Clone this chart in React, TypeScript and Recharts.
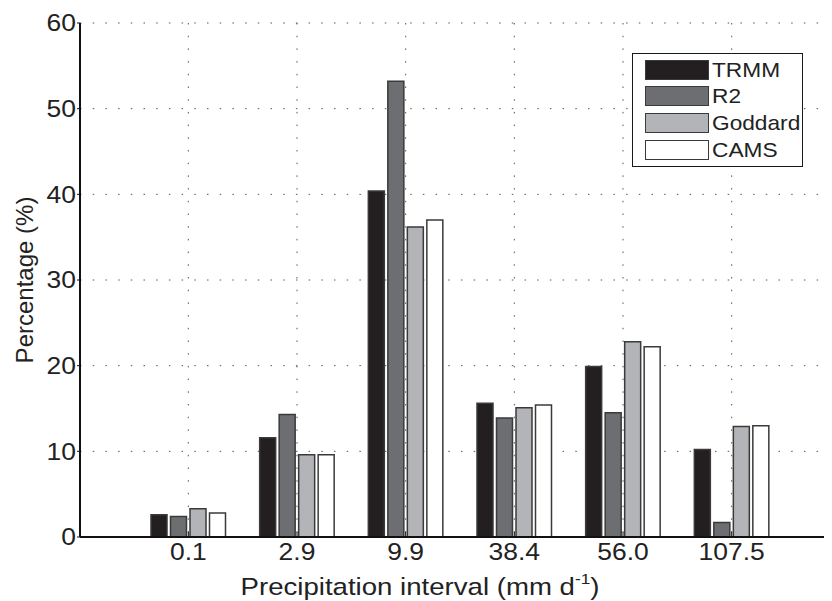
import { BarChart, Bar, XAxis, YAxis, CartesianGrid, Legend, Label } from 'recharts'

// precipitation bins (mm/d) and share of days in each bin (%)
const bins = ['0.1', '2.9', '9.9', '38.4', '56.0', '107.5']
const trmm = [2.6, 11.6, 40.4, 15.6, 19.9, 10.2]
const r2 = [2.4, 14.3, 53.2, 13.9, 14.5, 1.7]
const goddard = [3.3, 9.6, 36.2, 15.1, 22.8, 12.9]
const cams = [2.8, 9.6, 37.0, 15.4, 22.2, 13.0]
const yTicks = [0, 10, 20, 30, 40, 50, 60]

const data = bins.map((bin, i) => ({
  bin,
  TRMM: trmm[i],
  R2: r2[i],
  Goddard: goddard[i],
  CAMS: cams[i],
}))

const series = [
  { key: 'TRMM', fill: '#231f20' },
  { key: 'R2', fill: '#6d6e71' },
  { key: 'Goddard', fill: '#b2b4b7' },
  { key: 'CAMS', fill: '#ffffff' },
]

const FONT = '"Liberation Sans", Arial, Helvetica, sans-serif'
const EDGE = '#3a3a3a'
const PAD = { left: 54, right: 54 }

function YTick({ x, y, payload }: { x?: number; y?: number; payload?: { value: number } }) {
  return (
    <text
      transform={`translate(${x},${y}) scale(1.15,1)`}
      textAnchor="end"
      dy="0.36em"
      fontSize={23}
      fontFamily={FONT}
      fill="#222"
    >
      {payload?.value}
    </text>
  )
}

function XTick({ x, y, payload }: { x?: number; y?: number; payload?: { value: string } }) {
  return (
    <g>
      <line x1={x} x2={x} y1={y} y2={(y ?? 0) - 5} stroke="#111" strokeWidth={1} />
      <text
        transform={`translate(${x},${(y ?? 0) + 23}) scale(1.15,1)`}
        textAnchor="middle"
        fontSize={23}
        fontFamily={FONT}
        fill="#222"
      >
        {payload?.value}
      </text>
    </g>
  )
}

function XTitle({ viewBox }: { viewBox?: { x: number; y: number } }) {
  const x = (viewBox?.x ?? 0) + 340
  const y = (viewBox?.y ?? 0) + 58
  return (
    <text transform={`translate(${x},${y}) scale(1.15,1)`} textAnchor="middle" fontSize={24} fontFamily={FONT} fill="#222">
      Precipitation interval (mm d
      <tspan dy={-11} fontSize={15}>-1</tspan>
      <tspan dy={11}>)</tspan>
    </text>
  )
}

function YTitle({ viewBox }: { viewBox?: { x: number; y: number; height: number } }) {
  const x = (viewBox?.x ?? 0) + 17
  const y = (viewBox?.y ?? 0) + (viewBox?.height ?? 0) / 2
  return (
    <text
      transform={`translate(${x},${y}) rotate(-90)`}
      textAnchor="middle"
      dy="0.35em"
      fontSize={24}
      fontFamily={FONT}
      fill="#222"
    >
      Percentage (%)
    </text>
  )
}

function LegendBox() {
  return (
    <div
      style={{
        width: 171,
        height: 114,
        boxSizing: 'border-box',
        border: '1.5px solid #1a1a1a',
        background: '#fff',
        padding: '5.5px 0 0 11.5px',
        fontFamily: FONT,
      }}
    >
      {series.map((s) => (
        <div key={s.key} style={{ display: 'flex', alignItems: 'center', height: 20, marginBottom: 6.7 }}>
          <span
            style={{
              width: 64,
              height: 20,
              flex: 'none',
              boxSizing: 'border-box',
              background: s.fill,
              border: `1.5px solid ${EDGE}`,
            }}
          />
          <span
            style={{
              marginLeft: 3,
              fontSize: 21,
              color: '#222',
              lineHeight: '20px',
              display: 'inline-block',
              transform: 'scaleX(1.08)',
              transformOrigin: 'left center',
            }}
          >
            {s.key}
          </span>
        </div>
      ))}
    </div>
  )
}

export default function App() {
  return (
    <div style={{ width: 824, height: 593, overflow: 'hidden', position: 'relative', background: '#fff' }}>
      <BarChart
        width={850}
        height={593}
        data={data}
        margin={{ top: 15, right: 18, left: 0, bottom: 0 }}
        barSize={16}
        barGap={3.5}
      >
        <CartesianGrid stroke="#555" strokeDasharray="1.5 11.2" strokeWidth={1} />
        <XAxis
          dataKey="bin"
          height={64}
          padding={PAD}
          axisLine={{ stroke: '#111', strokeWidth: 2 }}
          tickLine={false}
          tickSize={0}
          tickMargin={0}
          tick={<XTick />}
          interval={0}
        >
          <Label content={<XTitle />} />
        </XAxis>
        <XAxis
          xAxisId="top"
          orientation="top"
          dataKey="bin"
          height={0}
          padding={PAD}
          mirror
          tick={false}
          tickSize={6}
          tickLine={{ stroke: '#111' }}
          axisLine={{ stroke: '#111', strokeWidth: 2 }}
          interval={0}
        />
        <YAxis
          width={72}
          domain={[0, 60]}
          ticks={yTicks}
          interval={0}
          tickSize={3}
          tickMargin={1}
          axisLine={{ stroke: '#111', strokeWidth: 2 }}
          tickLine={{ stroke: '#111' }}
          tick={<YTick />}
        >
          <Label content={<YTitle />} />
        </YAxis>
        <Legend
          layout="vertical"
          align="center"
          verticalAlign="middle"
          wrapperStyle={{ left: 624, top: 45, width: 171 }}
          content={<LegendBox />}
        />
        {series.map((s) => (
          <Bar
            key={s.key}
            dataKey={s.key}
            fill={s.fill}
            stroke={EDGE}
            strokeWidth={1.5}
            isAnimationActive={false}
          />
        ))}
      </BarChart>
    </div>
  )
}
